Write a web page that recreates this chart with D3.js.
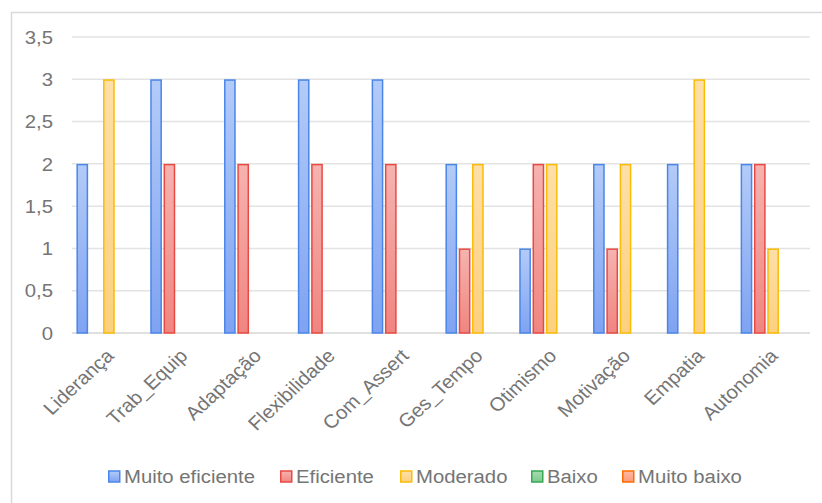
<!DOCTYPE html>
<html>
<head>
<meta charset="utf-8">
<script src="https://cdn.jsdelivr.net/npm/d3@7"></script>
<style>
  body { margin: 0; background: #fff; }
  text { font-family: "Liberation Sans", Arial, sans-serif; fill: #757575; }
</style>
</head>
<body>
<div id="chart"></div>
<script>
// data
const categories = ["Liderança", "Trab_Equip", "Adaptação", "Flexibilidade", "Com_Assert",
                    "Ges_Tempo", "Otimismo", "Motivação", "Empatia", "Autonomia"];
const seriesNames = ["Muito eficiente", "Eficiente", "Moderado", "Baixo", "Muito baixo"];
const muitoEficiente = [2, 3, 3, 3, 3, 2, 1, 2, 2, 2];
const eficiente      = [0, 2, 2, 2, 2, 1, 2, 1, 0, 2];
const moderado       = [3, 0, 0, 0, 0, 2, 2, 2, 3, 1];
const baixo          = [0, 0, 0, 0, 0, 0, 0, 0, 0, 0];
const muitoBaixo     = [0, 0, 0, 0, 0, 0, 0, 0, 0, 0];
const yTicks = [0, 0.5, 1, 1.5, 2, 2.5, 3, 3.5];

const allSeries = [muitoEficiente, eficiente, moderado, baixo, muitoBaixo];

const strokes = ["#4a86e8", "#e84a43", "#fbbc04", "#34a853", "#ff6d01"];
const topFill = ["#b3cbf8", "#f6b3b0", "#fddfa8", "#a9dbb3", "#fdb9a1"];
const botFill = ["#7fa3f2", "#f08580", "#fcd07e", "#7fc98c", "#fb9a7c"];

const W = 822, H = 503;
const margin = {top: 37, left: 72};
const width = 810 - margin.left, height = 333 - margin.top;
const FS = "19px", SX = 1.07;  // the picture is stretched a little sideways

const svg = d3.select("#chart").append("svg")
  .attr("width", W).attr("height", H);

const defs = svg.append("defs");
seriesNames.forEach(function(s, i) {
  const g = defs.append("linearGradient").attr("id", "grad" + i)
    .attr("x1", 0).attr("y1", 0).attr("x2", 0).attr("y2", 1);
  g.append("stop").attr("offset", "0%").attr("stop-color", topFill[i]);
  g.append("stop").attr("offset", "100%").attr("stop-color", botFill[i]);
});

// outer frame (runs off the right and bottom edges)
svg.append("rect")
  .attr("x", 11.5).attr("y", 12.5)
  .attr("width", 840).attr("height", 520)
  .attr("fill", "none").attr("stroke", "#d9d9d9").attr("stroke-width", 1.5);

const g = svg.append("g").attr("transform", `translate(${margin.left},${margin.top})`);

const y = d3.scaleLinear().domain([0, 3.5]).range([height, 0]);
const x0 = d3.scaleBand().domain(categories).range([0, width]).paddingInner(0.12).paddingOuter(0.06);
const x1 = d3.scaleBand().domain(seriesNames).range([0, x0.bandwidth()]).paddingInner(0.12);

// gridlines
g.selectAll(".grid").data(yTicks).join("line")
  .attr("x1", 0).attr("x2", width)
  .attr("y1", d => y(d)).attr("y2", d => y(d))
  .attr("stroke", d => d === 0 ? "#d6d6d6" : "#e3e3e3")
  .attr("stroke-width", 1.5);

// y tick labels
g.selectAll(".ytick").data(yTicks).join("text")
  .attr("transform", d => `translate(-19,${y(d)}) scale(${SX},1)`)
  .attr("dy", "0.35em")
  .attr("text-anchor", "end").style("font-size", FS)
  .text(d => String(d).replace(".", ","));

// bars
const groups = g.selectAll(".cat").data(categories).join("g")
  .attr("transform", d => `translate(${x0(d)},0)`);

groups.selectAll("rect")
  .data((c, ci) => seriesNames.map((s, si) => ({s: s, si: si, v: allSeries[si][ci]})).filter(d => d.v > 0))
  .join("rect")
  .attr("x", d => x1(d.s) + 0.75)
  .attr("width", x1.bandwidth() - 1.5)
  .attr("y", d => y(d.v) + 0.75)
  .attr("height", d => y(0) - y(d.v) - 0.75)
  .attr("fill", d => `url(#grad${d.si})`)
  .attr("stroke", d => strokes[d.si])
  .attr("stroke-width", 1.5);

// category labels, rotated
g.selectAll(".xlab").data(categories).join("text")
  .attr("transform", d => `translate(${x0(d) + x0.bandwidth() / 2 + 6},${height + 24}) scale(${SX},1) rotate(-45)`)
  .attr("text-anchor", "end").style("font-size", FS)
  .text(d => d);

// legend
const legendX = [108, 280, 400, 531, 622];
const legend = svg.selectAll(".leg").data(seriesNames).join("g")
  .attr("transform", (d, i) => `translate(${legendX[i]},476.5)`);
legend.append("rect")
  .attr("x", 0.75).attr("y", -5.5).attr("width", 11).attr("height", 11)
  .attr("fill", (d, i) => `url(#grad${i})`)
  .attr("stroke", (d, i) => strokes[i]).attr("stroke-width", 1.5);
legend.append("text")
  .attr("transform", `translate(16,0) scale(${SX},1)`)
  .attr("dy", "0.35em")
  .style("font-size", FS)
  .text(d => d);
</script>
</body>
</html>
